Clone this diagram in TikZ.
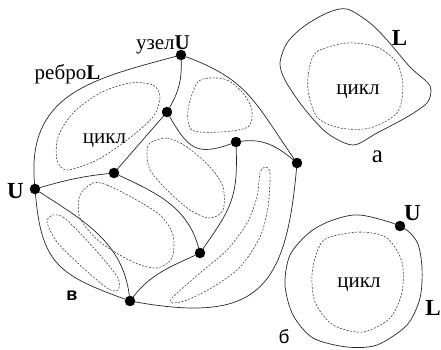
\documentclass[tikz,border=0pt]{standalone}
\usepackage{fontspec}
\setmainfont{Liberation Serif}
\setsansfont{Liberation Sans}
\tikzstyle{smallvertex}=[circle,fill=black,draw,minimum size=10pt,inner sep=0pt]
\tikzstyle{undirectededge} = [draw,line width=0.7pt,black!85]
\tikzstyle{cycleedge} = [draw,line width=0.55pt,black!80,dash pattern=on 2pt off 1.5pt]
\tikzstyle{weight} = [font=\fontsize{21}{21}\selectfont,inner sep=0pt,anchor=base]
\tikzstyle{bigletter} = [font=\fontsize{23}{23}\selectfont\bfseries,inner sep=0pt,anchor=base]
\tikzstyle{sansletter} = [font=\fontsize{19}{19}\selectfont\sffamily,inner sep=0pt,anchor=base]

\begin{document}
\begin{tikzpicture}[x=1pt,y=1pt]
\useasboundingbox (0,0) rectangle (441,349);

    % First we draw the vertices
    \foreach \pos/\name in {{(181,294)/A}, {(167,237)/B}, {(236,207)/C}, {(297,186)/D}, {(114,176)/E}, {(35,160)/F}, {(200,96)/G}, {(130,48)/H}}
        \node[smallvertex] (\name) at \pos {};

    % Connect vertices with edges
  \foreach \source/\dest/\o/\i/\l in {A/F/195/95/1.2, A/D/-20/125/1.15, A/B/-88/60/1, B/E/-131/49/1, B/C/-60/200/1.4, C/D/8/140/1, C/G/-88/55/1.2, F/E/16/186/1, E/G/-25/105/1, F/H/-33/97/1, F/H/-85/160/1.3, G/H/205/52/1, H/D/-10/-95/1.5}
          \path[undirectededge] (\source) to[out=\o,in=\i,looseness=\l] (\dest);

    % cycles in the faces
\draw[cycleedge] plot[smooth cycle] coordinates {(153,264) (160,252) (153,232) (127,209) (97,189) (67,179) (57,189) (58,212) (73,236) (100,256) (130,266)};
\draw[cycleedge] plot[smooth cycle] coordinates {(210,271) (227,269) (243,256) (252,239) (248,222) (220,217) (192,219) (188,239) (197,266)};
\draw[cycleedge] plot[smooth cycle] coordinates {(150,206) (167,211) (187,202) (210,182) (223,162) (223,139) (210,131) (190,139) (167,159) (150,179) (147,196)};
\draw[cycleedge] plot[smooth cycle] coordinates {(93,166) (107,164) (133,151) (160,134) (173,114) (172,91) (157,81) (133,87) (100,107) (80,131) (80,154)};
\draw[cycleedge] plot[smooth cycle] coordinates {(53,134) (63,132) (77,119) (100,94) (118,71) (118,59) (107,61) (80,84) (57,107) (47,127)};
\draw[cycleedge] plot[smooth cycle] coordinates {(265,182) (270,176) (268,142) (260,112) (240,82) (213,62) (187,49) (172,46) (173,52) (200,76) (227,99) (247,126) (257,152) (260,176)};

\node[weight] (uzel) at (163,300) {узел\textbf{U}};
\node[weight] (rebro) at (67.5,270) {ребро\textbf{L}};
\node[weight] (cycleV) at (104.5,206) {цикл};
\node[bigletter] (Uleft) at (15.5,151) {U};
\node[sansletter,font=\fontsize{18}{18}\selectfont\sffamily\bfseries] (v) at (72,49) {в};

    % loop a
\draw[undirectededge] plot[smooth cycle] coordinates {(347,340) (370,326) (387,309) (410,282) (427,267) (431,259) (427,246) (407,232) (377,216) (353,204) (327,216) (303,242) (285,269) (280,286) (287,306) (303,322) (327,336)};
\draw[cycleedge] plot[smooth cycle] coordinates {(347,306) (377,302) (397,286) (403,262) (397,236) (370,221) (340,221) (317,232) (308,259) (310,284) (318,298)};
\node[weight] (cycleA) at (358,255) {цикл};
\node[bigletter] (La) at (399.5,304) {L};
\node[weight,font=\fontsize{25}{25}\selectfont] (a) at (377.5,187) {а};

    % loop b with one vertex
\node[smallvertex] (Ub) at (400,123) {};
\draw[undirectededge] plot[smooth cycle] coordinates {(360,134) (400,123) (417,107) (422,81) (420,51) (407,24) (377,4) (347,2) (313,11) (293,34) (285,64) (290,94) (310,117) (333,129)};
\draw[cycleedge] plot[smooth cycle] coordinates {(327,111) (360,117) (387,111) (402,87) (402,57) (390,31) (363,17) (333,24) (315,47) (312,74) (317,97)};
\node[weight] (cycleB) at (359,62) {цикл};
\node[bigletter] (Ubl) at (412.5,129) {U};
\node[bigletter] (Lb) at (433,34) {L};
\node[sansletter] (b) at (284,6) {б};

\end{tikzpicture}
\end{document}
